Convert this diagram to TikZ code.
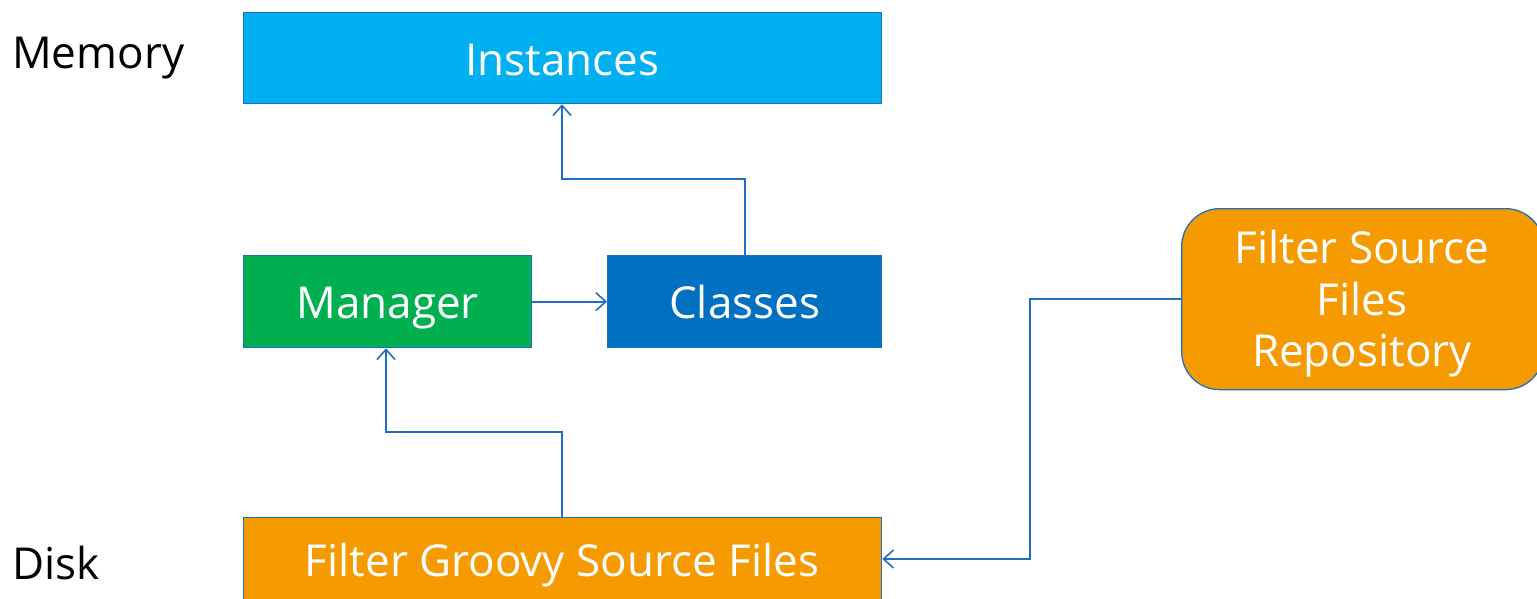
\documentclass[tikz,border=0pt]{standalone}
\usepackage{fontspec}
\setmainfont{Open Sans}
\usetikzlibrary{arrows.meta}
\definecolor{cyanbox}{HTML}{00B0F0}
\definecolor{greenbox}{HTML}{00B050}
\definecolor{bluebox}{HTML}{0070C0}
\definecolor{orangebox}{HTML}{F59A00}
\definecolor{edgeblue}{HTML}{1F6FC0}
\tikzset{
  x=1pt,y=-1pt,
  bigtext/.style={font=\fontsize{44}{51.5}\selectfont},
  box/.style={draw=edgeblue, line width=1.3pt, text=white, bigtext, inner sep=0pt, anchor=north west, text height=40pt, text depth=6pt},
  conn/.style={draw=edgeblue, line width=1.8pt, -{Straight Barb[length=10pt,width=18pt,line width=1.6pt]}},
  lbl/.style={bigtext, anchor=base west, inner sep=0pt}
}
\begin{document}
\begin{tikzpicture}
\useasboundingbox (0,0) rectangle (1537,598);
\clip (0,0) rectangle (1537,598);
\node[box, fill=cyanbox, minimum width=638pt, minimum height=91pt] (inst) at (243,12) {Instances};
\node[box, fill=greenbox, minimum width=288pt, minimum height=92pt] (mgr) at (243,255) {Manager};
\node[box, fill=bluebox, minimum width=274pt, minimum height=92pt] (cls) at (607,255) {Classes};
\node[box, fill=orangebox, minimum width=638pt, minimum height=100pt] (groovy) at (243,517) {};
\node[text=white, bigtext, inner sep=0pt, anchor=base] (groovytext) at (562,576) {Filter Groovy Source Files};
\node[box, fill=orangebox, rounded corners=38pt, minimum width=362pt, minimum height=181pt] (repo) at (1181,208) {};
\node[text=white, bigtext, inner sep=0pt, align=center] (repotext) at (1362,304) {Filter Source\\Files\\Repository};
\node[lbl] (mem) at (12,68) {Memory};
\node[lbl] (disk) at (12,579) {Disk};
\draw[conn] (cls.north) |- (562,179) -- (inst.south -| 562,0);
\draw[conn] (mgr.east) -- (cls.west);
\draw[conn] (groovy.north -| 562,0) |- (386,432) -- (mgr.south -| 386,0);
\draw[conn] (repo.west) -| (1030,559) -- (groovy.east |- 0,559);
\end{tikzpicture}
\end{document}
